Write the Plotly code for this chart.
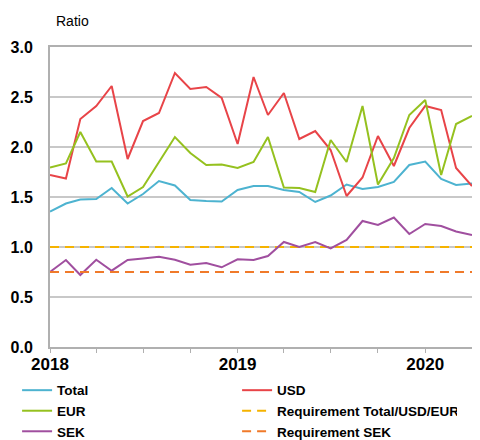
import pandas as pd
import plotly.graph_objects as go

months = pd.date_range("2018-01-01", "2020-04-01", freq="MS")

total = [1.355, 1.435, 1.475, 1.48, 1.59, 1.435, 1.53, 1.66, 1.615, 1.47, 1.46, 1.455, 1.57, 1.61,
         1.61, 1.57, 1.55, 1.45, 1.515, 1.625, 1.58, 1.60, 1.65, 1.82, 1.855, 1.68, 1.62, 1.635]
usd = [1.72, 1.685, 2.28, 2.41, 2.61, 1.88, 2.26, 2.34, 2.74, 2.58, 2.60, 2.49, 2.03, 2.70,
       2.32, 2.54, 2.08, 2.16, 1.97, 1.51, 1.695, 2.11, 1.81, 2.19, 2.41, 2.37, 1.79, 1.61]
eur = [1.795, 1.835, 2.15, 1.855, 1.855, 1.505, 1.60, 1.85, 2.10, 1.94, 1.82, 1.825, 1.79, 1.85,
       2.10, 1.595, 1.59, 1.55, 2.07, 1.85, 2.41, 1.625, 1.89, 2.32, 2.47, 1.72, 2.23, 2.31]
sek = [0.75, 0.87, 0.72, 0.873, 0.763, 0.87, 0.886, 0.903, 0.873, 0.823, 0.84, 0.797, 0.877, 0.87,
       0.91, 1.05, 1.00, 1.05, 0.986, 1.07, 1.26, 1.22, 1.295, 1.13, 1.23, 1.21, 1.155, 1.12]
req_total = [1.0] * len(months)
req_sek = [0.75] * len(months)

names = ["Total", "USD", "EUR", "Requirement Total/USD/EUR", "SEK", "Requirement SEK"]
series = [total, usd, eur, req_total, sek, req_sek]
colors = ["#4db3d0", "#e84448", "#95c11f", "#f5b300", "#a04f9f", "#f07a2a"]
dashes = ["solid", "solid", "solid", "9px,6px", "solid", "9px,6px"]

fig = go.Figure()
for n, s, c, d in zip(names, series, colors, dashes):
    fig.add_trace(go.Scatter(x=months, y=s, name=n, mode="lines",
                             line=dict(color=c, width=2, dash=d)))

font_family = "Liberation Sans, Arial, sans-serif"
fig.update_layout(
    width=472, height=432,
    margin=dict(l=42, r=8, t=39, b=92.5, autoexpand=False),
    paper_bgcolor="white", plot_bgcolor="white",
    font=dict(family=font_family, color="black"),
    showlegend=True,
    legend=dict(orientation="h", x=-0.078, xanchor="left", y=-0.093, yanchor="top",
                entrywidth=175, entrywidthmode="pixels",
                font=dict(size=13.5, family=font_family, weight="bold"),
                itemwidth=30, tracegroupgap=0),
    xaxis=dict(range=[months[0], months[-1]], type="date",
               dtick="M12", tickformat="%Y", ticks="outside", ticklen=4,
               tickcolor="#b0b0b0", tickwidth=1,
               minor=dict(dtick="M3", ticks="outside", ticklen=4, tickcolor="#b0b0b0"),
               showgrid=False, showline=True, linecolor="#b0b0b0", linewidth=2,
               mirror=True, zeroline=False, ticklabelstandoff=-3,
               tickfont=dict(size=17, family=font_family, weight="bold")),
    yaxis=dict(range=[0, 3], dtick=0.5, tickformat=".1f",
               showgrid=True, gridcolor="#c8c8c8", gridwidth=1.5,
               showline=True, linecolor="#b0b0b0", linewidth=2, mirror=True,
               zeroline=False, ticks="", ticklabelstandoff=12,
               tickfont=dict(size=16, family=font_family, weight="bold")),
    annotations=[dict(text="Ratio", xref="paper", yref="paper", x=0.01, y=1.0,
                      xanchor="left", yanchor="bottom", yshift=16, showarrow=False,
                      font=dict(size=14, family=font_family))],
)

fig.write_html("out.html")
